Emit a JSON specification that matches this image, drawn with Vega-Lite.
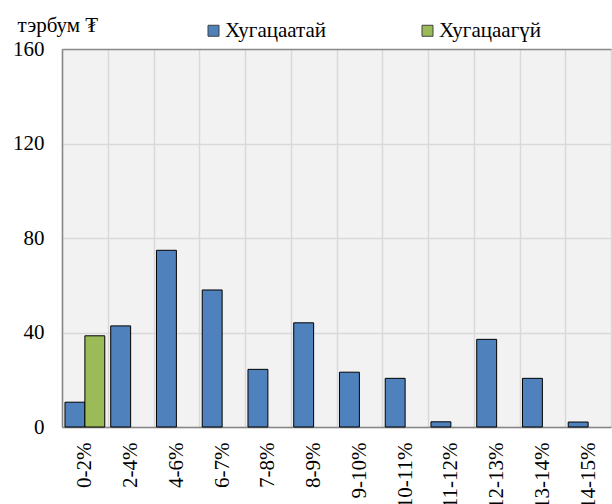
{
  "$schema": "https://vega.github.io/schema/vega-lite/v6.json",
  "autosize": {"type": "none"},
  "padding": {"left": 62, "top": 49, "right": 1, "bottom": 77},
  "width": 549,
  "height": 378,
  "config": {
    "font": "Liberation Serif",
    "axis": {"labelFont": "Liberation Serif", "titleFont": "Liberation Serif"},
    "legend": {"labelFont": "Liberation Serif", "titleFont": "Liberation Serif"},
    "view": {"fill": "#f2f2f2", "stroke": null},
    "background": "#ffffff"
  },
  "data": {
    "values": [
      {"rate": "0-2%", "series": "Хугацаатай", "value": 10.5},
      {"rate": "0-2%", "series": "Хугацаагүй", "value": 38.6},
      {"rate": "2-4%", "series": "Хугацаатай", "value": 42.8},
      {"rate": "4-6%", "series": "Хугацаатай", "value": 74.8},
      {"rate": "6-7%", "series": "Хугацаатай", "value": 58.0},
      {"rate": "7-8%", "series": "Хугацаатай", "value": 24.4},
      {"rate": "8-9%", "series": "Хугацаатай", "value": 44.1},
      {"rate": "9-10%", "series": "Хугацаатай", "value": 23.2},
      {"rate": "10-11%", "series": "Хугацаатай", "value": 20.6},
      {"rate": "11-12%", "series": "Хугацаатай", "value": 2.2},
      {"rate": "12-13%", "series": "Хугацаатай", "value": 37.1},
      {"rate": "13-14%", "series": "Хугацаатай", "value": 20.6},
      {"rate": "14-15%", "series": "Хугацаатай", "value": 2.1}
    ]
  },
  "mark": {"type": "bar", "stroke": "#000000", "strokeWidth": 1},
  "encoding": {
    "x": {
      "field": "rate",
      "type": "nominal",
      "sort": null,
      "scale": {"paddingInner": 0, "paddingOuter": 0},
      "axis": {
        "title": null,
        "labelAngle": 270,
        "labelAlign": "right",
        "labelBaseline": "middle",
        "labelFont": "Liberation Serif",
        "labelFontSize": 21,
        "labelColor": "#000000",
        "labelPadding": 15,
        "ticks": false,
        "tickBand": "extent",
        "grid": true,
        "gridColor": "#d9d9d9",
        "gridWidth": 1.5,
        "domainColor": "#868686",
        "domainWidth": 1.5,
        "zindex": 0
      }
    },
    "xOffset": {
      "field": "series",
      "type": "nominal",
      "scale": {"domain": ["Хугацаатай", "Хугацаагүй"], "paddingInner": 0, "paddingOuter": 0.15}
    },
    "y": {
      "field": "value",
      "type": "quantitative",
      "scale": {"domain": [0, 160], "nice": false},
      "axis": {
        "values": [0, 40, 80, 120, 160],
        "title": "тэрбум ₮",
        "titleFont": "Liberation Serif",
        "titleAngle": 0,
        "titleAlign": "left",
        "titleBaseline": "alphabetic",
        "titleX": -45,
        "titleY": -18,
        "titleFontSize": 21,
        "titleFontWeight": "normal",
        "titleColor": "#000000",
        "labelFont": "Liberation Serif",
        "labelFontSize": 21,
        "labelColor": "#000000",
        "labelPadding": 18,
        "ticks": false,
        "grid": true,
        "gridColor": {"condition": {"test": "datum.value === 160", "value": "#898989"}, "value": "#d9d9d9"},
        "gridWidth": 1.5,
        "domainColor": "#868686",
        "domainWidth": 1.5,
        "zindex": 0
      }
    },
    "color": {
      "field": "series",
      "type": "nominal",
      "scale": {"domain": ["Хугацаатай", "Хугацаагүй"], "range": ["#4f81bd", "#9bbb59"]},
      "legend": {
        "title": null,
        "orient": "none",
        "direction": "horizontal",
        "legendX": 141,
        "legendY": -29,
        "symbolType": "square",
        "symbolSize": 121,
        "symbolStrokeColor": "#404040",
        "symbolStrokeWidth": 1,
        "labelFont": "Liberation Serif",
        "labelFontSize": 21,
        "labelColor": "#000000",
        "labelOffset": 1,
        "columnPadding": 90
      }
    }
  }
}
